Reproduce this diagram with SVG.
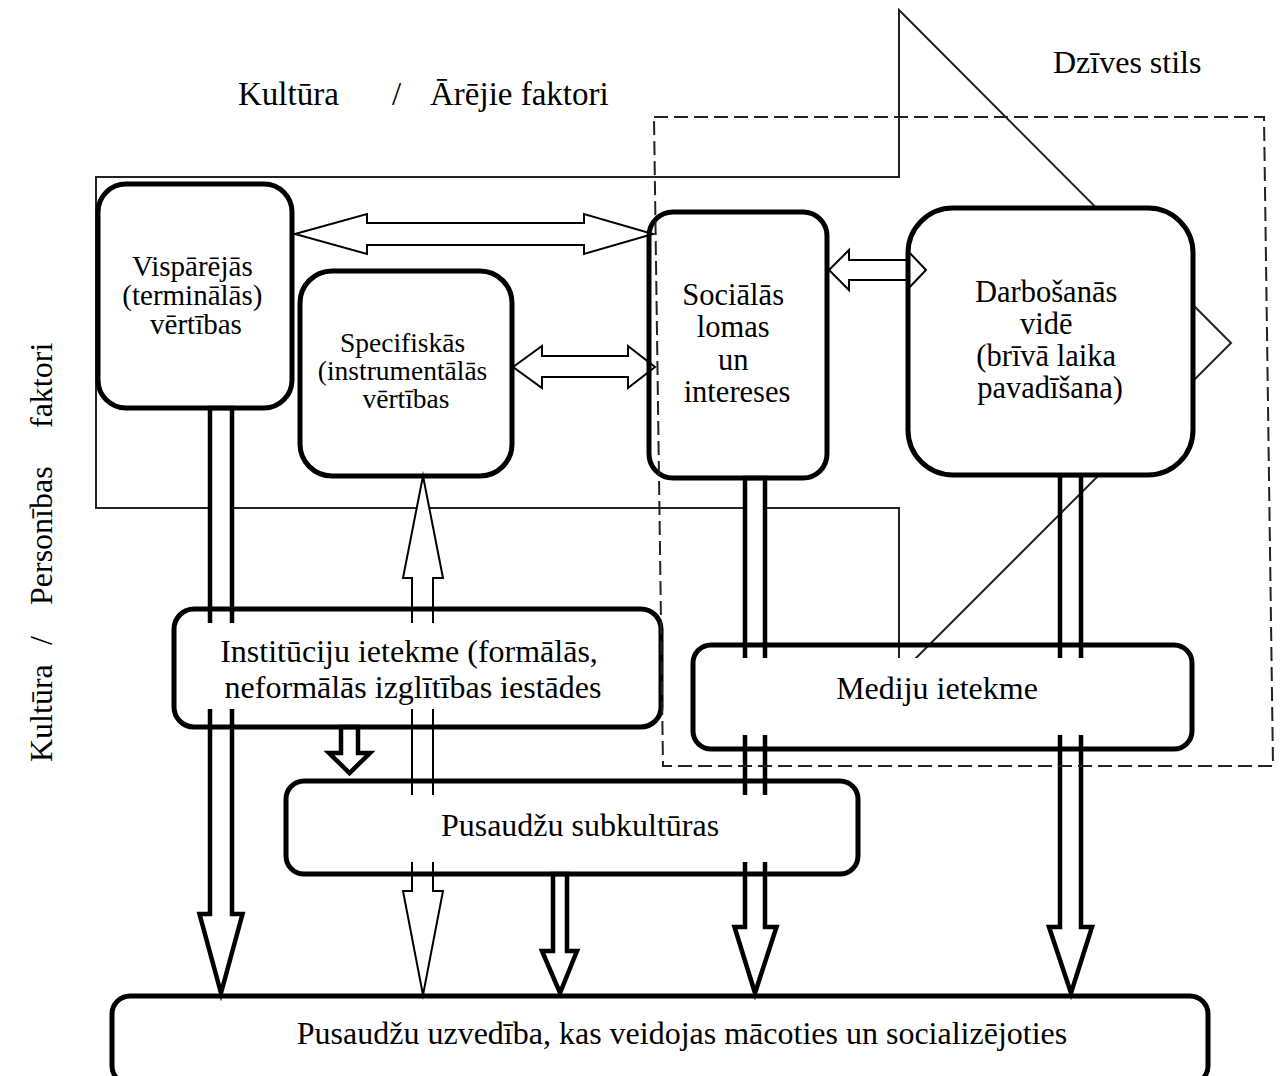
<svg xmlns="http://www.w3.org/2000/svg" width="1280" height="1076" viewBox="0 0 1280 1076">
  <style>
    .txt { font-family: "Liberation Serif", "Times New Roman", serif; fill: #000; }
    .big { font-size: 32px; }
    .box { fill: none; stroke: #000; stroke-width: 5; }
    .mask { fill: #fff; stroke: none; }
    .thick { fill: #fff; stroke: #000; stroke-width: 4.5; stroke-linejoin: miter; stroke-miterlimit: 10; }
    .thin { fill: #fff; stroke: #000; stroke-width: 2; stroke-linejoin: miter; stroke-miterlimit: 10; }
    .frame { fill: none; stroke: #222; stroke-width: 2; }
    .dash { fill: none; stroke: #222; stroke-width: 2; stroke-dasharray: 14 6; }
  </style>
  <rect width="1280" height="1076" fill="#fff"/>

  <!-- big arrow outline: Kultūra / Ārējie faktori -->
  <g id="frame-culture">
    <path class="frame" d="M96,177 H899 V10 L1231,343 L899,675 V508 H96 Z"/>
  </g>

  <!-- connectors -->
  <g id="connectors">
    <path class="thick" d="M210,408 V914 H199.5 L221,993 L242.5,914 H232 V408 Z"/>
    <path class="thin" d="M423,476 L443,578 H433 V891 H443 L423,995 L403,891 H412 V578 H403 Z"/>
    <path class="thick" d="M341,727 V753 H329 L349.5,773 L370,753 H358 V727 Z"/>
    <path class="thick" d="M553,874 V951 H542 L560,993 L577,951 H567 V874 Z"/>
    <path class="thick" d="M745,478 V927 H734.5 L755,993 L776.5,927 H765 V478 Z"/>
    <path class="thick" style="fill:none" d="M1060,475 V927 H1049 L1071,993 L1092,927 H1081 V475 Z"/>
    <path class="thin" d="M295,234 L367,214 V223 H584 V214 L653,234 L584,254 V245 H367 V254 Z"/>
    <path class="thin" d="M513,367 L542,346 V356 H628 V346 L655,367 L628,388 V377 H542 V388 Z"/>
    <path class="thin" d="M829,270 L849,250 V260 H907 V250 L926,270 L907,290 V280 H849 V290 Z"/>
  </g>

  <!-- nodes -->
  <g id="node-visparejas">
    <rect class="box" x="98" y="184" width="194" height="224" rx="28"/>
    <text class="txt" font-size="29" text-anchor="middle">
      <tspan x="196" y="276">Vispārējās</tspan>
      <tspan x="196" y="305">(terminālās)</tspan>
      <tspan x="196" y="334">vērtības</tspan>
    </text>
  </g>
  <g id="node-specifiskas">
    <rect class="box" x="300" y="271" width="212" height="205" rx="32"/>
    <text class="txt" font-size="27.5" text-anchor="middle">
      <tspan x="406" y="352">Specifiskās</tspan>
      <tspan x="406" y="380">(instrumentālās</tspan>
      <tspan x="406" y="408">vērtības</tspan>
    </text>
  </g>
  <g id="node-socialas">
    <rect class="box" x="649" y="212" width="178" height="266" rx="24"/>
    <text class="txt" font-size="30.5" text-anchor="middle">
      <tspan x="737" y="305">Sociālās</tspan>
      <tspan x="737" y="337">lomas</tspan>
      <tspan x="737" y="370">un</tspan>
      <tspan x="737" y="402">intereses</tspan>
    </text>
  </g>
  <g id="node-darbosanas">
    <rect class="mask" x="931" y="210" width="260" height="263" rx="42"/>
    <rect class="box" x="908" y="208" width="285" height="267" rx="45"/>
    <text class="txt" font-size="30.5" text-anchor="middle">
      <tspan x="1050" y="302">Darbošanās</tspan>
      <tspan x="1050" y="334">vidē</tspan>
      <tspan x="1050" y="366">(brīvā laika</tspan>
      <tspan x="1050" y="398">pavadīšana)</tspan>
    </text>
  </g>
  <g id="node-institucijas">
    <rect class="mask" x="179" y="623" width="477" height="86"/>
    <rect class="box" x="174" y="609" width="487" height="118" rx="20"/>
    <text class="txt big" text-anchor="middle">
      <tspan x="413" y="662">Institūciju ietekme (formālās,</tspan>
      <tspan x="413" y="698">neformālās izglītības iestādes</tspan>
    </text>
  </g>
  <g id="node-mediji">
    <rect class="mask" x="698" y="658" width="489" height="77"/>
    <rect class="box" x="693" y="645" width="499" height="104" rx="18"/>
    <text class="txt big" x="937" y="699" text-anchor="middle">Mediju ietekme</text>
  </g>
  <g id="node-subkulturas">
    <rect class="mask" x="291" y="795" width="562" height="67"/>
    <rect class="box" x="286" y="781" width="572" height="93" rx="18"/>
    <text class="txt big" x="580" y="836" text-anchor="middle">Pusaudžu subkultūras</text>
  </g>
  <g id="node-uzvediba">
    <rect class="box" x="112" y="996" width="1096" height="88" rx="18"/>
    <text class="txt big" x="682" y="1044" text-anchor="middle">Pusaudžu uzvedība, kas veidojas mācoties un socializējoties</text>
  </g>

  <!-- dashed region: Dzīves stils -->
  <g id="region-dzives-stils">
    <polygon class="dash" points="654,117 1264,117 1273,766 663,766"/>
  </g>

  <!-- free labels -->
  <g id="labels">
    <text class="txt" font-size="33" y="105">
      <tspan x="238">Kultūra</tspan>
      <tspan x="392">/</tspan>
      <tspan x="430">Ārējie faktori</tspan>
    </text>
    <text class="txt big" x="1053" y="73">Dzīves stils</text>
    <text class="txt big" transform="translate(52,762) rotate(-90)">
      <tspan x="0" y="0">Kultūra</tspan>
      <tspan x="117" y="0">/</tspan>
      <tspan x="157" y="0">Personības</tspan>
      <tspan x="334" y="0">faktori</tspan>
    </text>
  </g>
</svg>
